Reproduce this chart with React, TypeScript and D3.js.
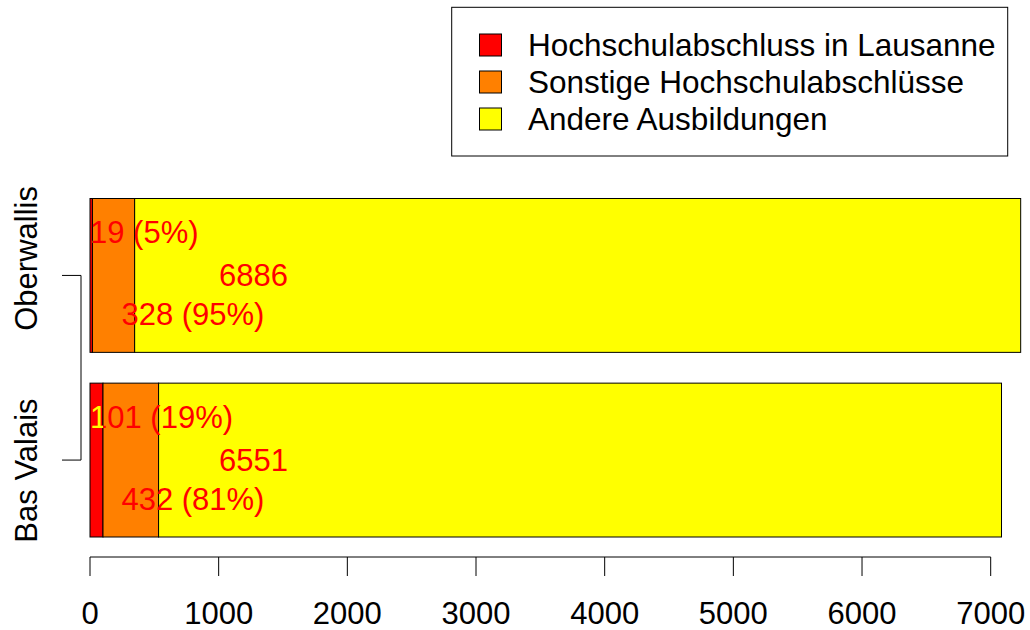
import React, { useEffect, useRef } from "react";
import * as d3 from "d3";

// regions, top bar first
const regions = ["Oberwallis", "Bas Valais"];
const lausanne = [19, 101];
const otherUni = [328, 432];
const otherEdu = [6886, 6551];

const seriesNames = [
  "Hochschulabschluss in Lausanne",
  "Sonstige Hochschulabschlüsse",
  "Andere Ausbildungen",
];
const seriesColors = ["#FF0000", "#FF8000", "#FFFF00"];
const xTicks = [0, 1000, 2000, 3000, 4000, 5000, 6000, 7000];

const App = () => {
  const svgRef = useRef<SVGSVGElement>(null);

  useEffect(() => {
    const width = 1030;
    const height = 630;
    const font = "Liberation Sans, Arial, Helvetica, sans-serif";
    const fs = 31;

    const svg = d3.select(svgRef.current).attr("width", width).attr("height", height);
    svg.selectAll("*").remove();

    const x = d3.scaleLinear().domain([0, 7000]).range([90, 990.7]);
    const y = d3
      .scaleBand<string>()
      .domain(regions)
      .range([198.5, 537])
      .paddingInner(0.2 / 1.2)
      .paddingOuter(0);

    const rows = regions.map((r, i) => ({
      region: r,
      values: [lausanne[i], otherUni[i], otherEdu[i]],
    }));

    const defs = svg.append("defs");

    // stacked bars
    rows.forEach((row, i) => {
      let acc = 0;
      const g = svg.append("g");
      row.values.forEach((v, j) => {
        g.append("rect")
          .attr("x", x(acc))
          .attr("y", y(row.region)!)
          .attr("width", x(acc + v) - x(acc))
          .attr("height", y.bandwidth())
          .attr("fill", seriesColors[j])
          .attr("stroke", "#000")
          .attr("stroke-width", 1);
        acc += v;
      });
      defs
        .append("clipPath")
        .attr("id", "redclip" + i)
        .append("rect")
        .attr("x", x(0))
        .attr("y", y(row.region)!)
        .attr("width", x(row.values[0]) - x(0))
        .attr("height", y.bandwidth());
    });

    // value labels
    rows.forEach((row, i) => {
      const [a, b, c] = row.values;
      const cy = y(row.region)! + y.bandwidth() / 2;
      const pa = Math.round((a / (a + b)) * 100);
      const pb = Math.round((b / (a + b)) * 100);
      const labels = [
        { t: `${a} (${pa}%)`, x: x(0), y: cy - 32, anchor: "start" },
        { t: `${c}`, x: x(1270), y: cy + 11, anchor: "middle" },
        { t: `${b} (${pb}%)`, x: x(800), y: cy + 50, anchor: "middle" },
      ];
      labels.forEach((l, k) => {
        svg.append("text")
          .attr("x", l.x)
          .attr("y", l.y)
          .attr("text-anchor", l.anchor)
          .attr("font-family", font)
          .attr("font-size", fs)
          .attr("fill", "#FF0000")
          .text(l.t);
        if (k === 0) {
          svg.append("text")
            .attr("x", l.x)
            .attr("y", l.y)
            .attr("text-anchor", l.anchor)
            .attr("font-family", font)
            .attr("font-size", fs)
            .attr("fill", "#FFFF00")
            .attr("clip-path", `url(#redclip${i})`)
            .text(l.t);
        }
      });
    });

    // x axis
    const xa = svg.append("g").attr("transform", "translate(0,557)");
    xa.append("line")
      .attr("x1", x(xTicks[0]))
      .attr("x2", x(xTicks[xTicks.length - 1]))
      .attr("stroke", "#000");
    xTicks.forEach((t) => {
      xa.append("line").attr("x1", x(t)).attr("x2", x(t)).attr("y1", 0).attr("y2", 19).attr("stroke", "#000");
      xa.append("text")
        .attr("x", x(t))
        .attr("y", 67)
        .attr("text-anchor", "middle")
        .attr("font-family", font)
        .attr("font-size", fs)
        .text(t);
    });

    // y axis
    const centers = regions.map((r) => y(r)! + y.bandwidth() / 2);
    const labelShift = [-17, 10.5];
    svg.append("line")
      .attr("x1", 81).attr("x2", 81)
      .attr("y1", d3.min(centers)!).attr("y2", d3.max(centers)!)
      .attr("stroke", "#000");
    regions.forEach((r, i) => {
      svg.append("line")
        .attr("x1", 62).attr("x2", 81)
        .attr("y1", centers[i]).attr("y2", centers[i])
        .attr("stroke", "#000");
      svg.append("text")
        .attr("transform", `translate(37,${centers[i] + labelShift[i]}) rotate(-90)`)
        .attr("text-anchor", "middle")
        .attr("font-family", font)
        .attr("font-size", fs)
        .text(r);
    });

    // legend
    const lg = svg.append("g");
    lg.append("rect")
      .attr("x", 451.7).attr("y", 7.3)
      .attr("width", 556).attr("height", 148.7)
      .attr("fill", "#fff").attr("stroke", "#000");
    seriesNames.forEach((n, i) => {
      const cy = 45 + i * 37;
      lg.append("rect")
        .attr("x", 479.5).attr("y", cy - 11)
        .attr("width", 22).attr("height", 22)
        .attr("fill", seriesColors[i]).attr("stroke", "#000");
      lg.append("text")
        .attr("x", 528).attr("y", cy + 11)
        .attr("font-family", font)
        .attr("font-size", 31.5)
        .text(n);
    });
  }, []);

  return (
    <svg
      ref={svgRef}
      style={{ position: "absolute", left: 0, top: 0, background: "#fff" }}
    ></svg>
  );
};

export default App;
